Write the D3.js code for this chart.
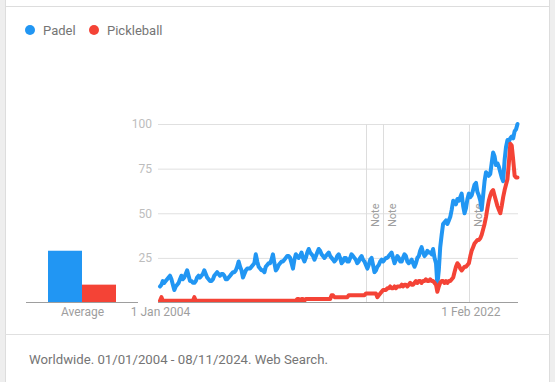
<!DOCTYPE html>
<html>
<head>
<meta charset="utf-8">
<script src="https://cdn.jsdelivr.net/npm/d3@7"></script>
<style>
  html, body { margin: 0; padding: 0; background: #fff; }
  svg { display: block; font-family: Roboto, "Noto Sans", sans-serif; }
</style>
</head>
<body>
<svg id="chart" width="555" height="382"></svg>
<script>
// ---- data ----
const seriesNames = ["Padel", "Pickleball"];
const seriesColors = ["#2196f3", "#f44336"];
const startDate = new Date(2004, 0, 1);   // monthly values from Jan 2004
const endDate = new Date(2024, 10, 1);    // to Nov 2024

const padel = [
  9,10,12,11,12,13,14,15,13,10,7,9,
  10,11,13,15,13,14,16,18,15,12,12,11,
  11,12,14,15,14,15,16,18,16,14,13,12,
  12,13,15,16,17,16,15,16,16,15,13,13,
  14,15,16,17,17,18,20,23,20,18,14,16,
  18,19,19,19,20,21,22,27,23,20,19,18,
  18,17,20,21,22,22,24,27,22,18,19,21,
  22,23,23,24,25,26,26,25,22,19,24,27,
  26,25,26,28,25,23,25,28,30,28,27,26,
  24,26,28,30,29,27,26,25,26,27,28,26,
  25,24,23,24,26,27,25,22,23,25,25,23,
  23,25,27,26,25,24,22,23,25,26,24,23,
  21,19,21,24,25,21,17,18,20,21,23,24,
  23,24,25,25,26,27,28,25,22,24,26,25,
  23,23,25,27,26,23,22,23,24,22,20,22,
  25,26,29,31,28,26,27,29,28,28,27,30,
  25,22,10,18,31,38,44,45,46,44,46,48,
  52,57,56,55,58,57,59,61,54,50,53,58,
  61,59,60,63,66,67,62,60,57,52,60,68,
  73,72,71,72,78,84,82,77,78,76,73,70,
  68,80,87,91,90,92,93,92,96,97,100
];
const pickleball = [
  1,3,1,1,1,1,1,1,1,1,1,1,
  1,1,1,1,1,1,1,1,1,1,1,1,
  3,1,1,1,1,1,1,1,1,1,1,1,
  1,1,1,1,1,1,1,1,1,1,1,1,
  1,1,1,1,1,1,1,1,1,1,1,1,
  1,1,1,1,1,1,1,1,1,1,1,1,
  1,1,1,1,1,1,1,1,1,1,1,1,
  1,1,1,1,1,1,1,1,1,1,1,1,
  2,2,1,2,2,1,2,2,2,2,2,2,
  2,2,2,2,2,2,2,2,2,2,2,2,
  4,4,3,3,3,3,3,3,3,3,3,3,
  4,4,4,4,4,4,4,4,4,4,4,4,
  5,5,5,5,5,5,5,5,3,4,5,6,
  7,7,7,8,8,9,8,8,9,8,9,9,
  9,10,9,10,10,9,10,11,10,10,11,12,
  11,12,12,11,12,12,13,12,12,13,12,12,
  11,10,6,9,11,12,12,11,12,11,12,12,
  13,14,17,20,22,21,19,18,19,20,20,21,
  22,26,29,31,33,34,35,35,36,38,41,44,
  48,53,57,60,62,63,60,57,54,52,50,54,
  59,63,66,69,78,89,88,80,71,70,70
];
const averages = [29, 10];
const yTicks = [25, 50, 75, 100];
const xTickDates = [new Date(2004, 0, 1), new Date(2022, 1, 1)];
const noteDates = [new Date(2016, 0, 1), new Date(2017, 0, 1), new Date(2022, 0, 1)];
const averageLabel = "Average";
const footerText = "Worldwide. 01/01/2004 - 08/11/2024. Web Search.";

// ---- drawing ----
const svg = d3.select("#chart");
const W = 555, H = 382;

// frame
svg.append("rect").attr("x", 0).attr("y", 0).attr("width", 5).attr("height", H).attr("fill", "#eeeeee");
svg.append("rect").attr("x", 550).attr("y", 0).attr("width", 5).attr("height", H).attr("fill", "#eeeeee");
svg.append("line").attr("x1", 5.5).attr("x2", 5.5).attr("y1", 0).attr("y2", H).attr("stroke", "#dddddd");
svg.append("line").attr("x1", 549.5).attr("x2", 549.5).attr("y1", 0).attr("y2", H).attr("stroke", "#dddddd");
svg.append("line").attr("x1", 5).attr("x2", 550).attr("y1", 6.5).attr("y2", 6.5).attr("stroke", "#dddddd");
svg.append("line").attr("x1", 5).attr("x2", 550).attr("y1", 334.5).attr("y2", 334.5).attr("stroke", "#e0e0e0");

// legend
const legend = svg.append("g");
const legendX = [30, 94];
seriesNames.forEach((name, i) => {
  legend.append("circle").attr("cx", legendX[i]).attr("cy", 30).attr("r", 5).attr("fill", seriesColors[i]);
  legend.append("text").attr("x", legendX[i] + 13).attr("y", 34.5)
    .attr("font-size", 13).attr("fill", "#757575").text(name);
});

// scales
const y = d3.scaleLinear().domain([0, 100]).range([302.5, 124]);
const x = d3.scaleTime().domain([startDate, endDate]).range([160, 517.5]);
const gridLeft = 158, gridRight = 518;

// y grid + labels
const yAxis = d3.axisLeft(y).tickValues(yTicks).tickSize(-(gridRight - gridLeft)).tickPadding(6);
const gy = svg.append("g").attr("transform", `translate(${gridLeft},0)`).call(yAxis);
gy.select(".domain").remove();
gy.selectAll(".tick line").attr("stroke", "#e0e0e0");
gy.selectAll(".tick text").attr("fill", "#bdbdbd").attr("font-size", 12).attr("font-family", "Roboto, sans-serif");

// note lines
noteDates.forEach(d => {
  const nx = Math.round(x(d)) + 0.5;
  svg.append("line").attr("x1", nx).attr("x2", nx).attr("y1", 124).attr("y2", 302.5).attr("stroke", "#dddddd");
  svg.append("text").attr("transform", `translate(${nx + 12},227) rotate(-90)`)
    .attr("font-size", 11).attr("fill", "#9e9e9e").text("Note");
});

// lines
const dates = padel.map((_, i) => d3.timeMonth.offset(startDate, i));
const line = d3.line().x((d, i) => x(dates[i])).y(d => y(d)).curve(d3.curveLinear);
[padel, pickleball].forEach((vals, k) => {
  svg.append("path").datum(vals).attr("d", line).attr("fill", "none")
    .attr("stroke", seriesColors[k]).attr("stroke-width", 4)
    .attr("stroke-linejoin", "round").attr("stroke-linecap", "round");
});

// x axis
const xAxis = d3.axisBottom(x).tickValues(xTickDates).tickFormat(d3.timeFormat("%-d %b %Y")).tickSize(0).tickPadding(5);
const gx = svg.append("g").attr("transform", "translate(0,302.5)").call(xAxis);
gx.select(".domain").remove();
gx.selectAll(".tick text").attr("fill", "#9e9e9e").attr("font-size", 12).attr("font-family", "Roboto, sans-serif");
svg.append("line").attr("x1", gridLeft).attr("x2", gridRight).attr("y1", 302.5).attr("y2", 302.5).attr("stroke", "#9e9e9e");

// average bars
const band = d3.scaleBand().domain(seriesNames).range([48, 116]).padding(0);
svg.selectAll(".avg").data(averages).enter().append("rect")
  .attr("x", (d, i) => band(seriesNames[i]))
  .attr("width", band.bandwidth())
  .attr("y", d => y(d))
  .attr("height", d => y(0) - y(d))
  .attr("fill", (d, i) => seriesColors[i]);
const avgScale = d3.scalePoint().domain([averageLabel]).range([26, 138]).padding(0.5);
const ga = svg.append("g").attr("transform", "translate(0,302.5)")
  .call(d3.axisBottom(avgScale).tickSize(0).tickPadding(5));
ga.select(".domain").remove();
ga.selectAll(".tick text").attr("fill", "#9e9e9e").attr("font-size", 12).attr("font-family", "Roboto, sans-serif");
svg.append("line").attr("x1", 26).attr("x2", 138).attr("y1", 302.5).attr("y2", 302.5).attr("stroke", "#9e9e9e");

// footer
svg.append("text").attr("x", 29).attr("y", 364).attr("font-size", 13.2).attr("fill", "#757575").text(footerText);
</script>
</body>
</html>
